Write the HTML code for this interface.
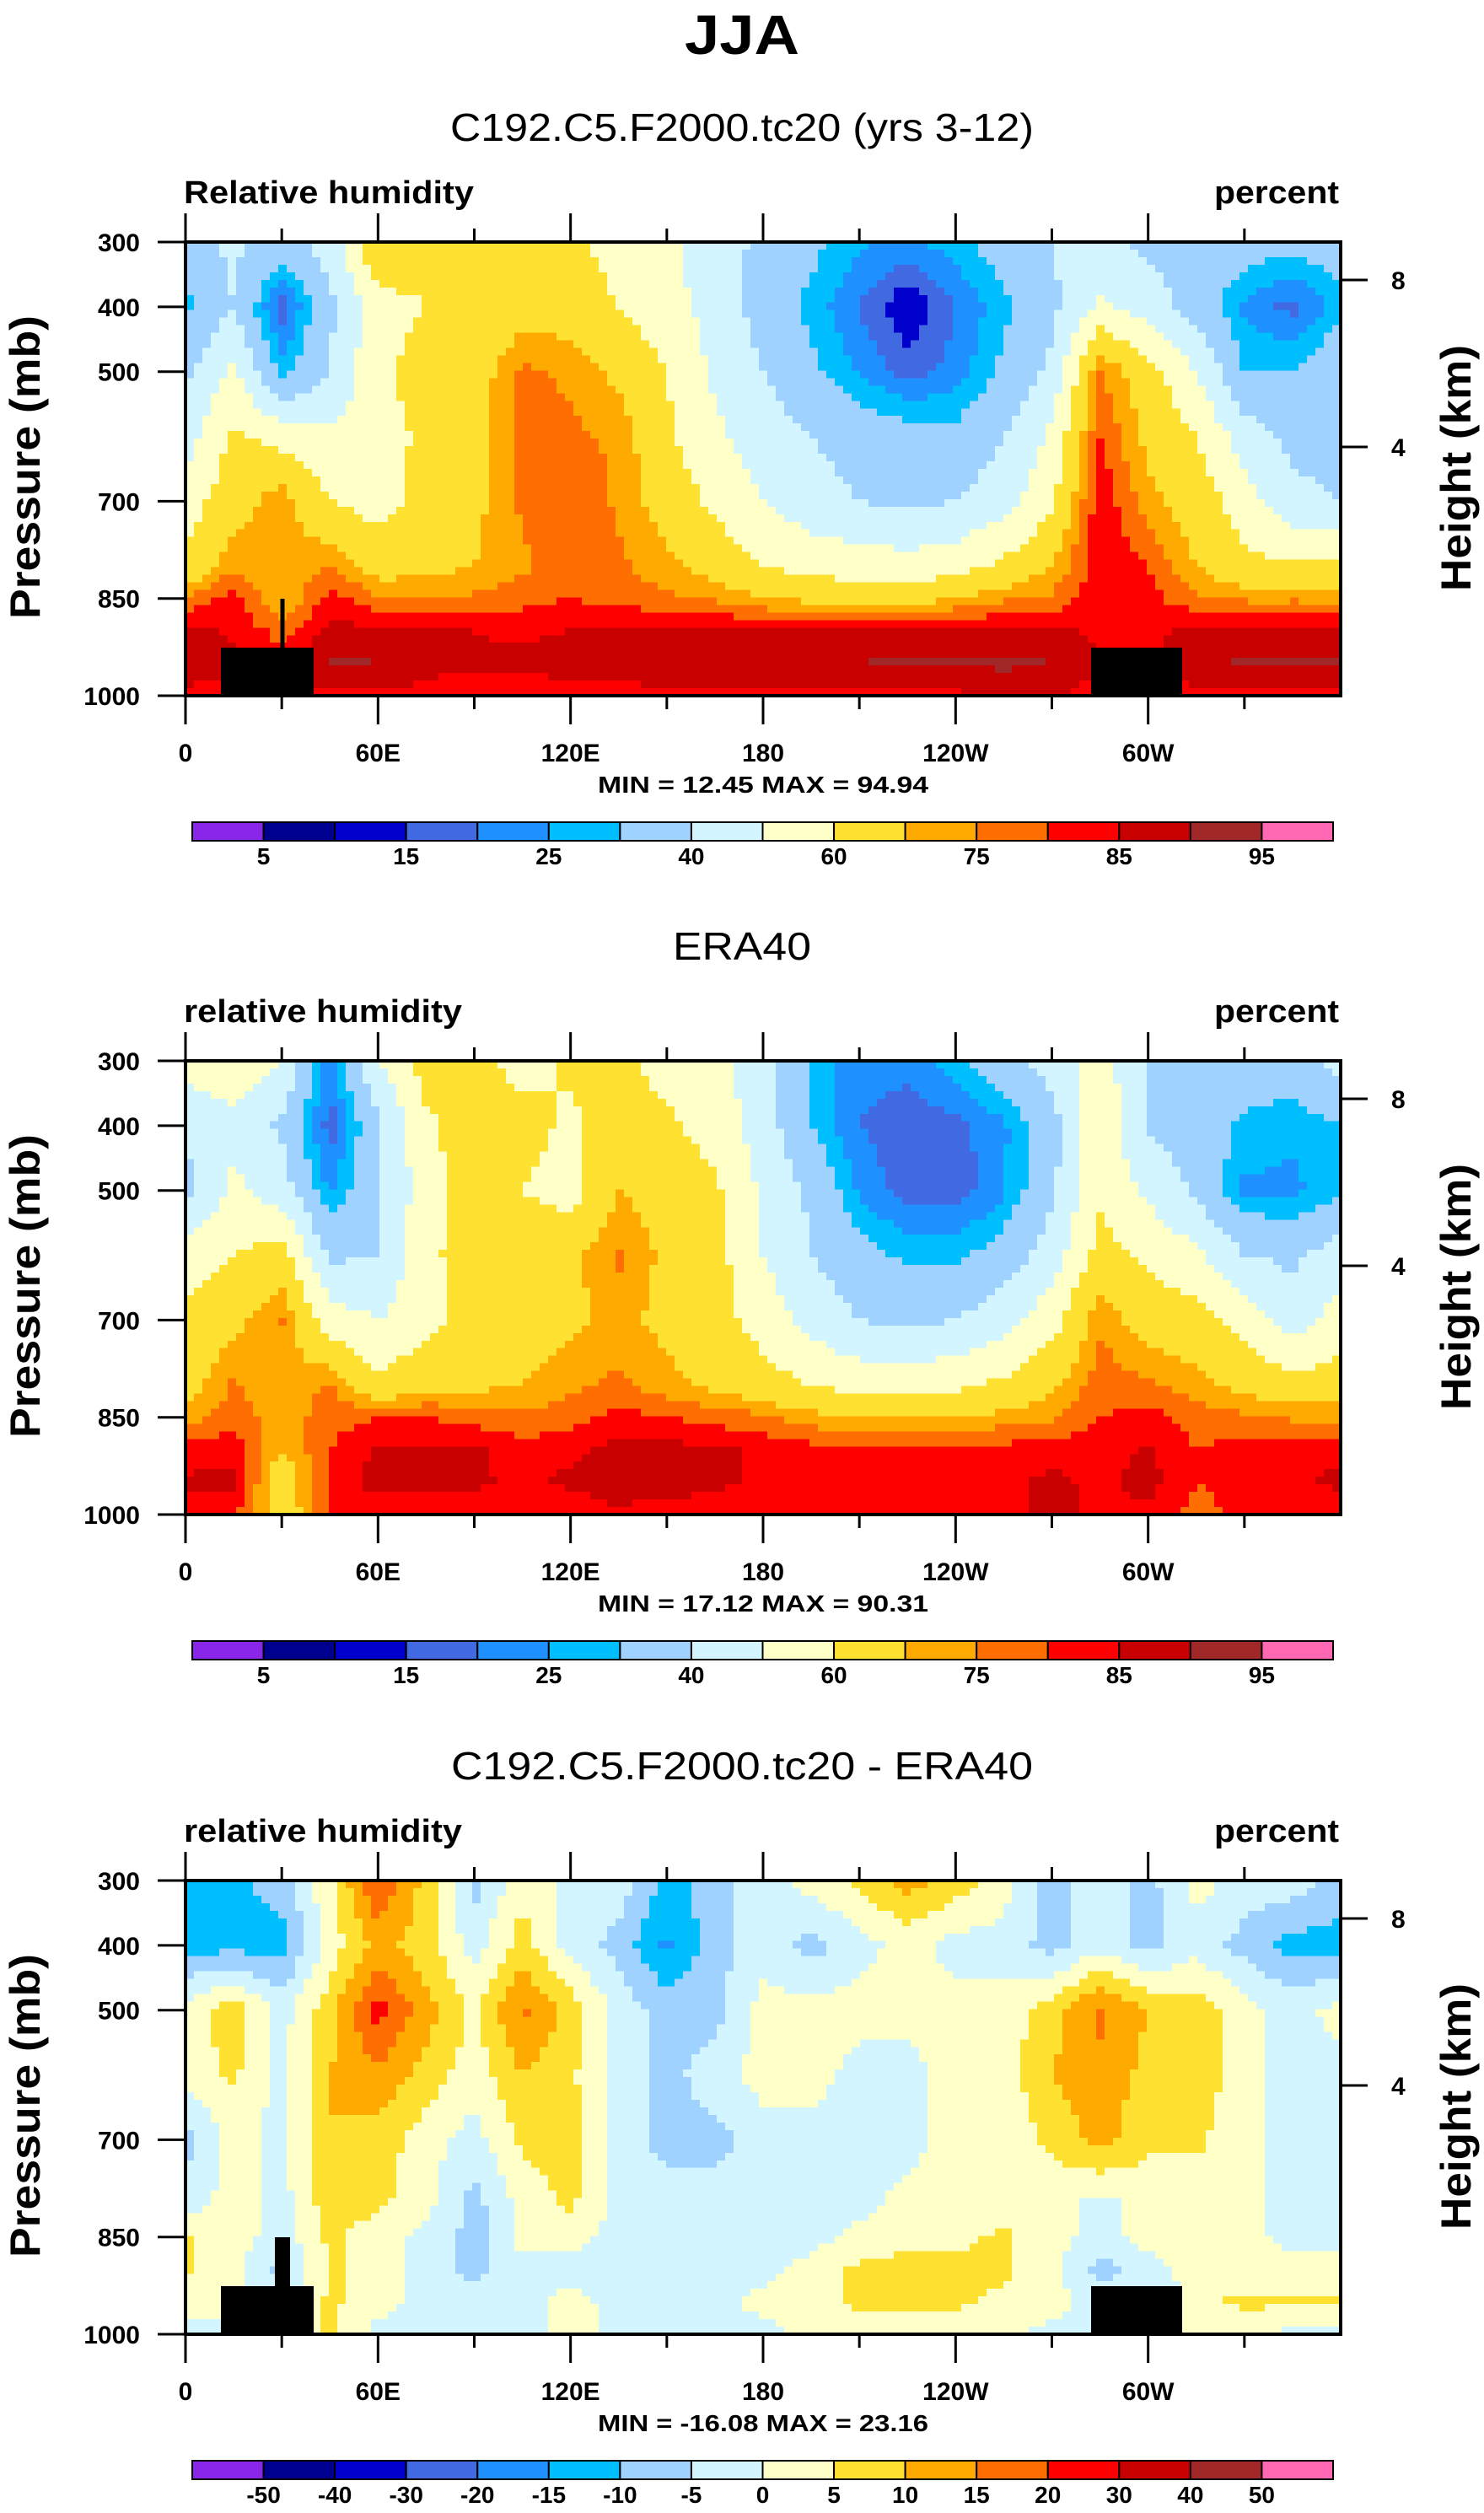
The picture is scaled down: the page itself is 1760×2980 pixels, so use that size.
<!DOCTYPE html>
<html><head><meta charset="utf-8"><style>
html,body{margin:0;padding:0;background:#fff}
svg text{font-family:"Liberation Sans",Arial,sans-serif;font-weight:bold;fill:#000}
</style></head><body>
<svg id="fig" xmlns="http://www.w3.org/2000/svg" width="1760" height="2975" viewBox="0 0 1760 2975">
<text x="880" y="64" text-anchor="middle" font-size="66" textLength="136" lengthAdjust="spacingAndGlyphs">JJA</text>
</svg>
<script>
// ---- data ----
const lons = [0,15,30,45,60,75,90,105,120,135,150,165,180,195,210,225,240,255,270,285,300,315,330,345,360];
const pressures = [300,400,500,600,700,800,850,900,950,1000];
const modelRH = [
[36,42,36,44,70,64,62,64,62,56,52,44,38,32,26,24,28,34,40,42,38,36,34,33,35],
[28,40,17,38,56,60,62,66,66,60,54,46,36,28,20,10,20,28,38,52,45,36,24,18,28],
[38,52,27,40,58,64,66,76,74,68,60,48,40,32,24,18,22,32,42,76,64,50,30,30,38],
[45,62,56,52,56,62,66,78,76,74,62,52,45,40,36,34,32,40,52,80,68,60,45,38,38],
[55,66,74,60,56,64,68,76,80,74,66,58,50,44,40,38,40,46,58,84,72,66,55,42,40],
[62,74,70,76,66,68,70,74,78,76,72,66,60,56,55,54,56,62,70,84,80,70,62,62,62],
[76,82,70,82,76,74,76,78,80,78,76,74,70,68,66,66,70,74,76,84,82,76,74,74,74],
[87,84,78,87,86,86,85,84,85,86,86,86,86,86,86,86,86,86,86,84,84,86,86,86,86],
[89,86,82,91,90,87,86,86,88,88,88,88,89,89,90,91,91,91,90,86,84,88,91,91,91],
[83,84,82,84,84,83,82,82,82,83,84,84,84,84,84,84,84,86,86,82,82,84,84,84,84]];
const eraRH = [
[55,56,50,22,50,64,64,56,62,62,56,52,45,28,22,22,28,36,44,56,38,36,36,36,44],
[42,48,38,17,38,58,66,64,58,66,62,56,45,30,20,17,18,24,36,58,38,36,28,26,30],
[36,52,45,24,38,56,64,60,56,70,66,62,48,38,24,17,17,24,38,58,48,38,24,24,28],
[55,60,64,38,40,58,64,66,68,76,68,64,50,40,34,28,28,34,45,64,58,52,40,38,45],
[62,68,76,55,50,56,64,66,68,72,68,64,56,46,40,38,40,46,56,74,66,64,56,45,55],
[66,76,70,76,62,68,68,70,74,76,72,68,64,60,56,56,58,62,68,78,76,72,68,64,64],
[72,78,72,78,80,80,78,76,78,82,80,78,76,72,70,70,70,72,74,80,82,78,76,74,74],
[82,84,70,80,86,86,86,82,84,87,87,86,84,82,82,82,82,82,84,82,86,80,82,84,84],
[86,86,64,82,87,87,86,84,86,88,88,86,84,82,82,82,82,84,86,84,87,80,82,84,86],
[82,82,64,80,82,82,82,80,82,84,82,82,82,82,82,82,82,84,86,84,84,78,82,82,82]];
const diffRH = [
[-12,-12,-7,4,20,8,-7,4,-2,-2,-12,-7,-2,2,6,12,8,2,-7,-2,-7,2,-2,-2,-7],
[-12,-12,-12,2,12,7,-2,7,-2,-7,-16,-7,-2,-7,-2,2,-2,-2,-7,-2,-7,-2,-7,-12,-12],
[2,8,-2,8,22,12,4,16,8,-2,-7,-7,2,2,2,2,2,2,8,16,10,8,2,-2,2],
[2,6,-2,10,14,8,2,10,6,-2,-7,-2,2,2,-2,-2,2,2,10,14,8,8,2,-2,-2],
[-7,2,-2,10,8,2,-2,6,8,-2,-7,-7,-2,-2,-2,-2,2,2,6,12,6,6,2,-2,-2],
[-2,2,-2,8,6,2,-7,2,6,-2,-2,-2,-2,-2,-2,2,2,2,2,-2,2,2,2,-2,-2],
[6,2,-2,6,2,-2,-7,2,2,-2,-2,-2,-2,-2,2,2,4,6,2,-2,2,2,2,-2,-2],
[6,2,-7,6,2,-2,-7,-2,-2,-2,-2,-2,-2,2,6,8,6,6,2,-7,-2,2,2,2,2],
[2,2,-2,6,2,-2,-2,-2,2,-2,-2,-2,2,2,6,6,6,4,2,-2,-7,4,6,6,6],
[-2,-2,-2,6,-2,-2,-2,-2,2,-2,-2,-2,-2,2,2,2,2,2,-2,-2,-2,2,2,-2,-2]];
const rhLevels = [5,10,15,20,25,30,40,50,60,70,75,80,85,90,95];
const rhLabels = ["5","15","25","40","60","75","85","95"];
const diffLevels = [-50,-40,-30,-20,-15,-10,-5,0,5,10,15,20,30,40,50];
const diffLabels = ["-50","-40","-30","-20","-15","-10","-5","0","5","10","15","20","30","40","50"];
const lonTickLabels = ["0","60E","120E","180","120W","60W"];
const pTicks = [300,400,500,700,850,1000];
const minmax = ["MIN =  12.45  MAX =  94.94","MIN =  17.12  MAX =  90.31","MIN = -16.08  MAX =  23.16"];
const colors = ["#8a25ea","#00008f","#0000cd","#4169e1","#1e90ff","#00bfff","#a0d2ff","#d2f5ff","#ffffc8","#ffe132","#ffaa00","#ff6e00","#ff0000","#c80000","#a02828","#ff69b4"];

const NS="http://www.w3.org/2000/svg";
const svg=document.getElementById('fig');
function mk(tag,attrs,parent){const e=document.createElementNS(NS,tag);for(const k in attrs)e.setAttribute(k,attrs[k]);(parent||svg).appendChild(e);return e;}
function txt(s,attrs,parent){const e=mk('text',attrs,parent);e.textContent=s;return e;}

const X0=220,X1=1590,PH=538;
function xScale(lon){return X0+(lon/360)*(X1-X0);}
function interp(grid,lon,p){
  let i=0;while(i<lons.length-2&&lon>lons[i+1])i++;
  let j=0;while(j<pressures.length-2&&p>pressures[j+1])j++;
  const tx=(lon-lons[i])/(lons[i+1]-lons[i]);const ty=(p-pressures[j])/(pressures[j+1]-pressures[j]);
  const a=grid[j][i]*(1-tx)+grid[j][i+1]*tx;const b=grid[j+1][i]*(1-tx)+grid[j+1][i+1]*tx;
  return a*(1-ty)+b*ty;
}
function colorOf(v,levels){let k=0;while(k<levels.length&&v>=levels[k])k++;return colors[k];}

const panels=[
 {top:287,grid:modelRH,levels:rhLevels,labels:rhLabels,labelIdx:[0,2,4,6,8,10,12,14],title:"C192.C5.F2000.tc20 (yrs 3-12)",titleLen:692,left:"Relative humidity",leftLen:344,mm:minmax[0],topo:true,spikeW:5},
 {top:1258,grid:eraRH,levels:rhLevels,labels:rhLabels,labelIdx:[0,2,4,6,8,10,12,14],title:"ERA40",titleLen:164,left:"relative humidity",leftLen:330,mm:minmax[1],topo:false},
 {top:2230,grid:diffRH,levels:diffLevels,labels:diffLabels,labelIdx:[0,1,2,3,4,5,6,7,8,9,10,11,12,13,14],title:"C192.C5.F2000.tc20 - ERA40",titleLen:690,left:"relative humidity",leftLen:330,mm:minmax[2],topo:true,spikeW:18}
];

panels.forEach((P,pi)=>{
  const g=mk('g',{});
  
  
  const T=P.top,B=T+PH;
  const yS=p=>T+(p-300)/700*PH;
  const t1=txt(P.title,{x:880,y:T-120,'text-anchor':'middle','font-size':46,textLength:P.titleLen,lengthAdjust:'spacingAndGlyphs',style:'font-weight:normal'},g);
  
  
  const t2=txt(P.left,{x:218,y:T-46,'font-size':38,textLength:P.leftLen,lengthAdjust:'spacingAndGlyphs'},g);
  
  
  const t3=txt('percent',{x:1588,y:T-46,'text-anchor':'end','font-size':38,textLength:148,lengthAdjust:'spacingAndGlyphs'},g);
  
  
  // cells
  const cg=mk('g',{'shape-rendering':'crispEdges'},g);
  
  
  const NX=137,NY=60;
  for(let a=0;a<NX;a++){for(let b=0;b<NY;b++){
    const lon=(a+0.5)*360/NX,p=300+(b+0.5)*700/NY;
    const v=interp(P.grid,lon,p);
    const x=xScale(a*360/NX),y=yS(300+b*700/NY);
    const r=mk('rect',{x:x.toFixed(1),y:y.toFixed(1),width:((X1-X0)/NX+0.8).toFixed(1),height:(PH/NY+0.8).toFixed(1),fill:colorOf(v,P.levels)},cg);
    
    
  }}
  if(P.topo){
    const tg=mk('g',{fill:'#000'},g);
    
    
    mk('rect',{x:262,y:B-57,width:110,height:57},tg);
    mk('rect',{x:335-P.spikeW/2,y:B-115,width:P.spikeW,height:60},tg);
    mk('rect',{x:1294,y:B-57,width:108,height:57},tg);
  }
  // frame
  const fr=mk('rect',{x:X0,y:T,width:X1-X0,height:PH,fill:'none',stroke:'#000','stroke-width':4},g);
  
  
  for(let k=0;k<12;k++){
    const x=xScale(k*30),len=(k%2==0)?34:16;
    mk('line',{x1:x,y1:T,x2:x,y2:T-len,stroke:'#000','stroke-width':3},g);
    mk('line',{x1:x,y1:B,x2:x,y2:B+len,stroke:'#000','stroke-width':3},g);
  }
  lonTickLabels.forEach((s,k)=>{
    const e=txt(s,{x:xScale(k*60),y:B+78,'text-anchor':'middle','font-size':30},g);
    
    
  });
  pTicks.forEach(p=>{
    const y=yS(p);
    mk('line',{x1:X0,y1:y,x2:X0-33,y2:y,stroke:'#000','stroke-width':3},g);
    const e=txt(String(p),{x:166,y:y+11,'text-anchor':'end','font-size':30},g);
    
    
  });
  [[8,T+45],[4,T+243]].forEach(([h,y])=>{
    mk('line',{x1:X1,y1:y,x2:X1+32,y2:y,stroke:'#000','stroke-width':3},g);
    const e=txt(String(h),{x:1650,y:y+11,'font-size':30},g);
    
    
  });
  const ya=txt('Pressure (mb)',{x:0,y:0,'text-anchor':'middle','font-size':50,textLength:360,lengthAdjust:'spacingAndGlyphs',transform:`translate(47,${T+267}) rotate(-90)`},g);
  
  
  const yb=txt('Height (km)',{x:0,y:0,'text-anchor':'middle','font-size':50,textLength:292,lengthAdjust:'spacingAndGlyphs',transform:`translate(1744,${T+268}) rotate(-90)`},g);
  
  
  const mm=txt(P.mm,{x:905,y:B+115,'text-anchor':'middle','font-size':28,textLength:392,lengthAdjust:'spacingAndGlyphs','xml:space':'preserve'},g);
  
  
  // colorbar
  const cb=mk('g',{},g);
  
  
  const cx0=228,cx1=1581,cy=T+688,ch=22,bw=(cx1-cx0)/16;
  colors.forEach((c,k)=>{
    const r=mk('rect',{x:cx0+k*bw,y:cy,width:bw,height:ch,fill:c,stroke:'#000','stroke-width':2},cb);
    
    
  });
  P.labelIdx.forEach((li,k)=>{
    const e=txt(P.labels[k],{x:cx0+(li+1)*bw,y:cy+ch+28,'text-anchor':'middle','font-size':28},cb);
    
    
  });
});
</script>
</body></html>
